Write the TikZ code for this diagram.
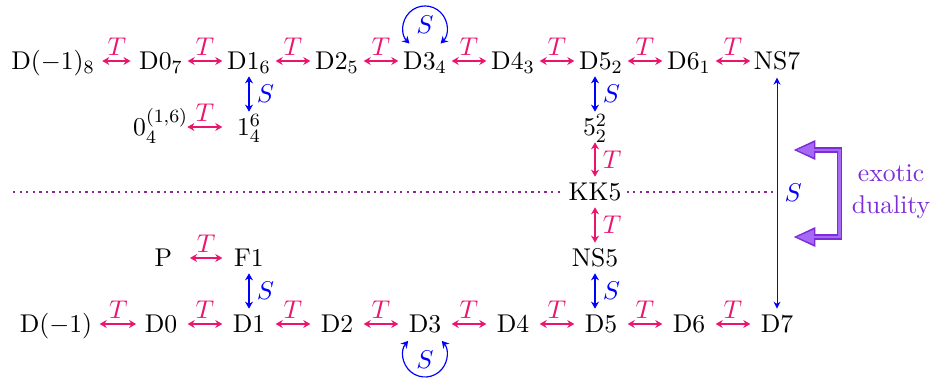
\documentclass[11pt,tikz,border=0pt]{standalone}
\usepackage{amsmath}
\usetikzlibrary{arrows.meta}
\definecolor{tcol}{RGB}{235,20,110}
\definecolor{scol}{RGB}{0,0,255}
\definecolor{exodark}{RGB}{125,45,215}
\definecolor{exolight}{RGB}{165,105,245}
\definecolor{dotcol}{RGB}{140,40,150}

\begin{document}
\begin{tikzpicture}[
  obj/.style={inner sep=2pt, text height=9pt, text depth=1.5pt},
  tdual/.style={{Stealth[length=3pt,width=3.4pt]}-{Stealth[length=3pt,width=3.4pt]}, draw=tcol, line width=0.7pt},
  sdual/.style={{Stealth[length=3pt,width=3.4pt]}-{Stealth[length=3pt,width=3.4pt]}, draw=scol, line width=0.7pt},
  slong/.style={{Stealth[length=3pt,width=3pt]}-{Stealth[length=3pt,width=3pt]}, draw=scol, line width=0.4pt, shorten <=0.25cm, shorten >=0.23cm},
  sloop/.style={{Stealth[length=3pt,width=3.4pt]}-{Stealth[length=3pt,width=3.4pt]}, draw=scol, line width=0.5pt},
  hgap/.style={shorten <=0.4cm, shorten >=0.4cm},
  vgap/.style={shorten <=0.23cm, shorten >=0.23cm},
  tlab/.style={above=0pt, inner sep=2.2pt, text=tcol},
  tlabr/.style={right=0pt, inner sep=3pt, text=tcol},
  slab/.style={right=0pt, inner sep=3pt, text=scol},
  dotline/.style={draw=dotcol, line width=0.5pt, dash pattern=on 1pt off 1.8pt}
]
\useasboundingbox (0,0) rectangle (14.04,-5.7);

\node[obj] (dm18) at (0.795,-0.915) {$\mathrm{D}(-1)_8$};
\node[obj] (d07) at (2.415,-0.915) {$\mathrm{D}0_7$};
\node[obj] (d16) at (3.735,-0.915) {$\mathrm{D}1_6$};
\node[obj] (d25) at (5.055,-0.915) {$\mathrm{D}2_5$};
\node[obj] (d34) at (6.375,-0.915) {$\mathrm{D}3_4$};
\node[obj] (d43) at (7.695,-0.915) {$\mathrm{D}4_3$};
\node[obj] (d52) at (9.015,-0.915) {$\mathrm{D}5_2$};
\node[obj] (d61) at (10.335,-0.915) {$\mathrm{D}6_1$};
\node[obj] (ns7) at (11.655,-0.915) {NS7};

\node[obj] (zero) at (2.41,-1.905) {$0_4^{(1,6)}$};
\node[obj] (one) at (3.735,-1.905) {$1_4^6$};
\node[obj] (five) at (8.925,-1.905) {$5_2^2$};

\node[obj] (kk5) at (8.925,-2.88) {KK5};

\node[obj] (p) at (2.45,-3.87) {P};
\node[obj] (f1) at (3.735,-3.87) {F1};
\node[obj] (ns5) at (8.925,-3.87) {NS5};

\node[obj] (dm1) at (0.84,-4.86) {$\mathrm{D}(-1)$};
\node[obj] (d0) at (2.415,-4.86) {D0};
\node[obj] (d1) at (3.735,-4.86) {D1};
\node[obj] (d2) at (5.055,-4.86) {D2};
\node[obj] (d3) at (6.375,-4.86) {D3};
\node[obj] (d4) at (7.695,-4.86) {D4};
\node[obj] (d5) at (9.015,-4.86) {D5};
\node[obj] (d6) at (10.335,-4.86) {D6};
\node[obj] (d7) at (11.655,-4.86) {D7};

\node[text=scol] (s34) at ([yshift=0.55cm]d34.center) {$S$};
\node[text=scol] (s3) at ([yshift=-0.54cm]d3.center) {$S$};
\node[align=center, text=exodark] (exo) at (13.365,-2.88) {exotic\\duality};

\coordinate (dotl) at (0.195,-2.88);
\coordinate (dotr) at (11.6,-2.88);
\coordinate (exotop) at (11.895,-2.25);
\coordinate (exomid) at (12.5925,-2.9);
\coordinate (exobot) at (11.895,-3.555);

\draw[tdual, shorten <=1pt, shorten >=1.5pt] (dm18.east) -- node[tlab] {$T$} (d07.west);
\draw[tdual, hgap] (d07.center) -- node[tlab] {$T$} (d16.center);
\draw[tdual, hgap] (d16.center) -- node[tlab] {$T$} (d25.center);
\draw[tdual, hgap] (d25.center) -- node[tlab] {$T$} (d34.center);
\draw[tdual, hgap] (d34.center) -- node[tlab] {$T$} (d43.center);
\draw[tdual, hgap] (d43.center) -- node[tlab] {$T$} (d52.center);
\draw[tdual, hgap] (d52.center) -- node[tlab] {$T$} (d61.center);
\draw[tdual, hgap] (d61.center) -- node[tlab] {$T$} (ns7.center);

\draw[tdual, hgap] (zero.center) -- node[tlab] {$T$} (one.center);
\draw[tdual, hgap] (p.center) -- node[tlab] {$T$} (f1.center);

\draw[tdual, shorten <=1pt, shorten >=1.5pt] (dm1.east) -- node[tlab] {$T$} (d0.west);
\draw[tdual, hgap] (d0.center) -- node[tlab] {$T$} (d1.center);
\draw[tdual, hgap] (d1.center) -- node[tlab] {$T$} (d2.center);
\draw[tdual, hgap] (d2.center) -- node[tlab] {$T$} (d3.center);
\draw[tdual, hgap] (d3.center) -- node[tlab] {$T$} (d4.center);
\draw[tdual, hgap] (d4.center) -- node[tlab] {$T$} (d5.center);
\draw[tdual, hgap] (d5.center) -- node[tlab] {$T$} (d6.center);
\draw[tdual, hgap] (d6.center) -- node[tlab] {$T$} (d7.center);

\draw[sdual, vgap] (d16.center) -- node[slab] {$S$} (one.center);
\draw[sdual, vgap] (f1.center) -- node[slab] {$S$} (d1.center);
\draw[sdual, vgap] (five |- d52) -- node[slab] {$S$} (five.center);
\draw[tdual, vgap] (five.center) -- node[tlabr] {$T$} (kk5.center);
\draw[tdual, vgap] (kk5.center) -- node[tlabr] {$T$} (ns5.center);
\draw[sdual, vgap] (ns5.center) -- node[slab] {$S$} (ns5 |- d5);
\draw[slong] (ns7.center) -- node[slab] {$S$} (d7.center);

\draw[sloop] ([shift={(-0.233,0.262)}]d34.center) arc[start angle=225, end angle=-45, radius=0.33];
\draw[sloop] ([shift={(-0.253,-0.253)}]d3.center) arc[start angle=140, end angle=400, radius=0.33];

\draw[dotline] (dotl) -- (kk5) (kk5) -- (dotr);

\draw[draw=exodark, line width=2.4pt, {Triangle[length=9.5pt,width=7.7pt]}-{Triangle[length=9.5pt,width=7.7pt]}] (exotop) -| (exomid) |- (exobot);
\draw[draw=exolight, line width=1.2pt, shorten <=1.6pt, shorten >=1.6pt, {Triangle[length=7.3pt,width=5.9pt]}-{Triangle[length=7.3pt,width=5.9pt]}] (exotop) -| (exomid) |- (exobot);
\end{tikzpicture}
\end{document}
